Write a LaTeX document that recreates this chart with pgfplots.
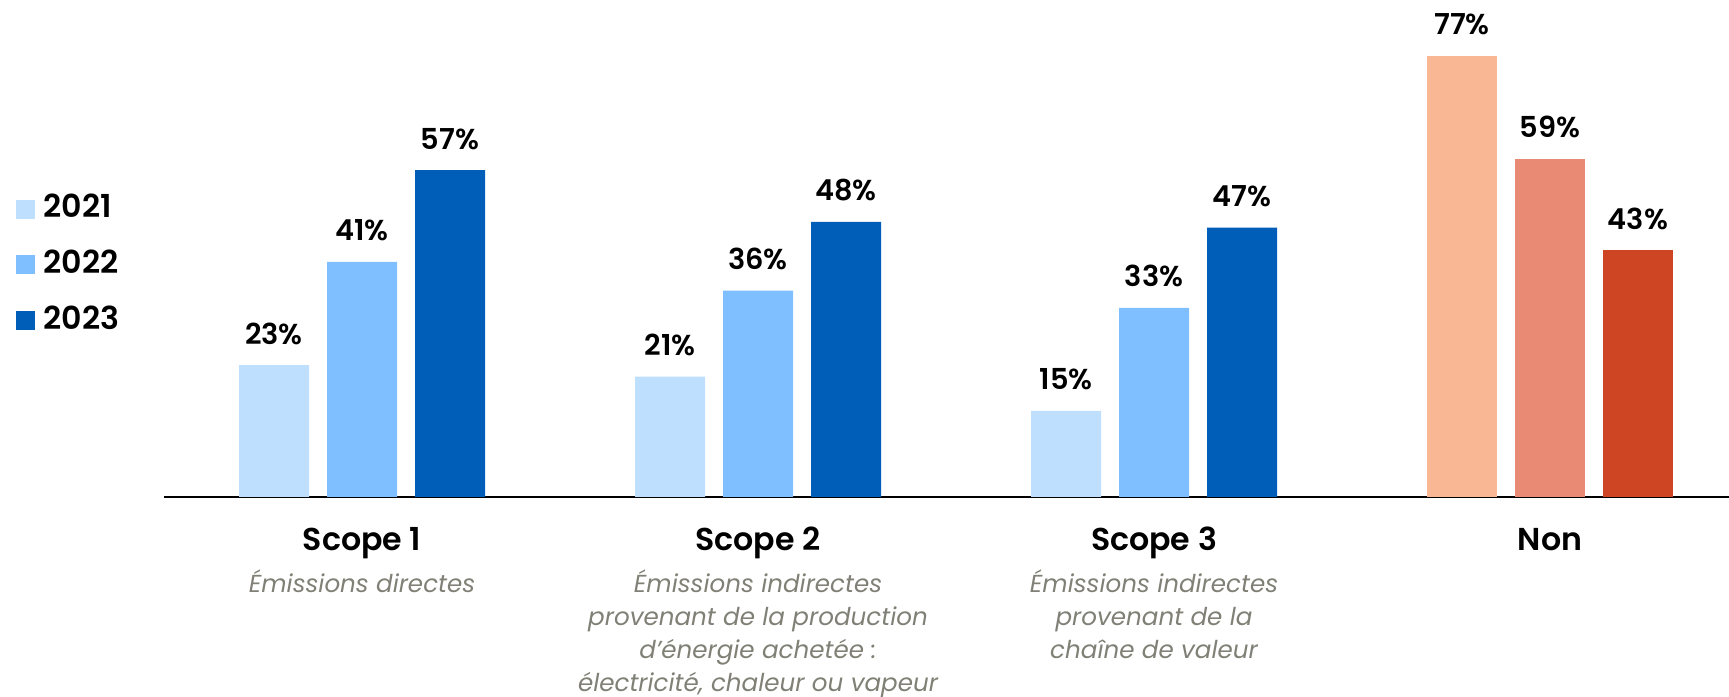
\documentclass[border=0pt]{standalone}
\usepackage{pgfplots}
\pgfplotsset{compat=1.18}
\usepackage{fontspec}
\setmainfont{Poppins}[BoldFont={Poppins SemiBold}]

\definecolor{yA}{RGB}{191,223,255}
\definecolor{yB}{RGB}{128,191,255}
\definecolor{yC}{RGB}{0,94,184}
\definecolor{nA}{RGB}{250,183,148}
\definecolor{nB}{RGB}{232,138,116}
\definecolor{nC}{RGB}{205,69,34}
\definecolor{subgray}{RGB}{128,128,118}

\tikzset{subt/.style={anchor=base, yshift=-0.96cm, inner sep=0pt,
    font=\fontsize{7}{9.3}\selectfont\itshape, text=subgray}}

\begin{document}
\begin{tikzpicture}
\path[use as bounding box] (0,0) rectangle (17.29,6.97);
\begin{axis}[
  at={(1.64cm,2.00cm)}, anchor=south west,
  scale only axis, width=15.65cm, height=4.97cm,
  xmin=-0.5, xmax=3.452, ymin=0, ymax=86.7,
  axis x line=bottom, axis y line=none,
  x axis line style={-},
  axis line style={line width=0.6pt, black},
  xtick={0,1,2,3}, xticklabels={Scope 1, Scope 2, Scope 3, Non},
  major tick length=0pt, ytick=\empty,
  xticklabel style={font=\fontsize{9}{11}\selectfont\bfseries, anchor=base, inner sep=0pt, yshift=-0.54cm},
  /pgf/number format/assume math mode=true,
  clip=false,
  ybar, bar width=0.70cm,
  nodes near coords={\pgfmathprintnumber{\pgfplotspointmeta}\%},
  nodes near coords style={font=\fontsize{8.2}{10}\selectfont\bfseries, anchor=base, inner sep=0pt, yshift=0.21cm, text=black},
  legend image code/.code={\fill[#1] (0cm,-0.10cm) rectangle (0.19cm,0.09cm);},
  legend style={at={(-0.0952,0.625)}, anchor=north west, draw=none, fill=none,
    font=\fontsize{9}{11}\selectfont\bfseries, row sep=0.13cm, column sep=0.02cm,
    inner sep=0pt},
  legend cell align=left,
]
\addplot[fill=yA, draw=none, bar shift=-0.88cm] coordinates {(0,23) (1,21) (2,15)};
\addplot[fill=yB, draw=none, bar shift=0cm] coordinates {(0,41) (1,36) (2,33)};
\addplot[fill=yC, draw=none, bar shift=0.88cm] coordinates {(0,57) (1,48) (2,47)};
\addplot[fill=nA, draw=none, bar shift=-0.88cm, forget plot] coordinates {(3,77)};
\addplot[fill=nB, draw=none, bar shift=0cm, forget plot] coordinates {(3,59)};
\addplot[fill=nC, draw=none, bar shift=0.88cm, forget plot] coordinates {(3,43)};
\legend{2021,2022,2023}

\node[subt] at (axis cs:0,0) {\begin{tabular}[t]{@{}c@{}}Émissions directes\end{tabular}};
\node[subt] at (axis cs:1,0) {\begin{tabular}[t]{@{}c@{}}Émissions indirectes\\provenant de la production\\d’énergie achetée :\\électricité, chaleur ou vapeur\end{tabular}};
\node[subt] at (axis cs:2,0) {\begin{tabular}[t]{@{}c@{}}Émissions indirectes\\provenant de la\\chaîne de valeur\end{tabular}};
\end{axis}
\end{tikzpicture}
\end{document}
